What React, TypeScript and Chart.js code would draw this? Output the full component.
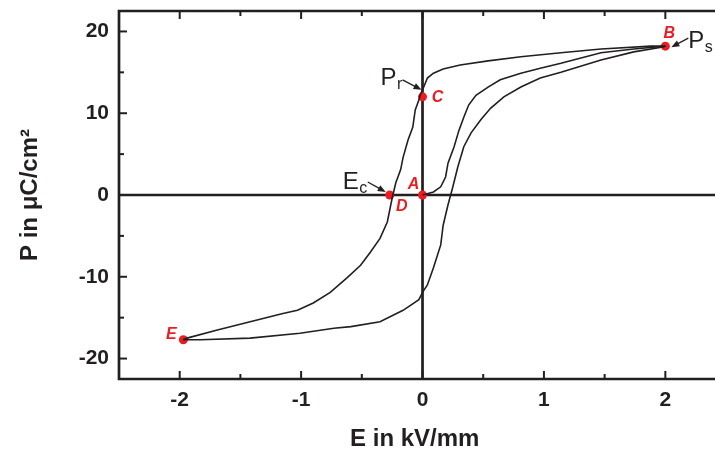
import React, { useEffect, useRef } from "react";
import { Chart, registerables } from "chart.js";

Chart.register(...registerables);

// Initial (virgin) curve A -> B
const INITIAL_E = [0, 0.09, 0.15, 0.19, 0.21, 0.26, 0.30, 0.34, 0.38, 0.44, 0.54, 0.64, 0.81, 0.97, 1.14, 1.47, 1.74, 2.0];
const INITIAL_P = [0, 0.37, 1.0, 2.2, 3.9, 5.9, 7.9, 9.5, 11.0, 12.2, 13.2, 14.1, 14.9, 15.5, 16.1, 17.4, 17.85, 18.2];

// Descending branch B -> E
const DESC_E = [2.0, 1.88, 1.47, 1.14, 0.81, 0.54, 0.31, 0.17, 0.09, 0.04, 0.01, -0.02, -0.03, -0.06, -0.08, -0.12, -0.16, -0.18, -0.22, -0.24, -0.25, -0.29, -0.35, -0.43, -0.51, -0.62, -0.76, -0.90, -1.03, -1.15, -1.42, -1.69, -1.94, -1.97];
const DESC_P = [18.2, 18.2, 17.85, 17.4, 16.9, 16.4, 15.9, 15.4, 14.9, 14.3, 13.2, 12.2, 11.6, 10.4, 8.3, 6.7, 4.6, 3.1, 1.5, 0.24, -0.37, -3.3, -5.3, -7.0, -8.6, -10.1, -11.9, -13.2, -14.1, -14.5, -15.5, -16.5, -17.5, -17.7];

// Ascending branch E -> B
const ASC_E = [-1.97, -1.83, -1.42, -1.01, -0.73, -0.59, -0.35, -0.16, -0.03, 0.0, 0.04, 0.09, 0.15, 0.17, 0.21, 0.25, 0.29, 0.34, 0.40, 0.48, 0.56, 0.67, 0.81, 0.97, 1.14, 1.47, 1.74, 1.98, 2.0];
const ASC_P = [-17.7, -17.7, -17.5, -16.9, -16.3, -16.1, -15.5, -14.1, -12.8, -11.9, -11.0, -8.9, -6.1, -3.7, -1.2, 1.0, 3.4, 5.9, 7.6, 9.2, 10.6, 12.0, 13.2, 14.3, 15.0, 16.5, 17.5, 18.1, 18.2];

// Marked points
const POINT_LABELS = ["A", "B", "C", "D", "E"];
const POINT_E = [0, 2.0, 0, -0.27, -1.97];
const POINT_P = [0, 18.2, 12.0, 0, -17.7];

// Axis ticks
const X_MAJOR = [-2, -1, 0, 1, 2];
const X_MINOR = [-1.5, -0.5, 0.5, 1.5];
const Y_MAJOR = [-20, -10, 0, 10, 20];
const Y_MINOR = [-15, -5, 5, 15];

const X_MIN = -2.5;
const X_MAX = 2.372;
const Y_MIN = -22.5;
const Y_MAX = 22.5;

const INK = "#231f20";
const RED = "#ed1c24";
const FONT = "'Liberation Sans', Arial, Helvetica, sans-serif";

const toXY = (xs: number[], ys: number[]) => xs.map((x, i) => ({ x, y: ys[i] }));

function arrow(ctx: CanvasRenderingContext2D, x1: number, y1: number, x2: number, y2: number) {
  const ang = Math.atan2(y2 - y1, x2 - x1);
  const hl = 8;
  const hw = 3.2;
  ctx.save();
  ctx.strokeStyle = INK;
  ctx.fillStyle = INK;
  ctx.lineWidth = 1.3;
  ctx.beginPath();
  ctx.moveTo(x1, y1);
  ctx.lineTo(x2 - Math.cos(ang) * hl * 0.8, y2 - Math.sin(ang) * hl * 0.8);
  ctx.stroke();
  ctx.beginPath();
  ctx.moveTo(x2, y2);
  ctx.lineTo(x2 - Math.cos(ang) * hl - Math.sin(ang) * hw, y2 - Math.sin(ang) * hl + Math.cos(ang) * hw);
  ctx.lineTo(x2 - Math.cos(ang) * hl + Math.sin(ang) * hw, y2 - Math.sin(ang) * hl - Math.cos(ang) * hw);
  ctx.closePath();
  ctx.fill();
  ctx.restore();
}

function subText(ctx: CanvasRenderingContext2D, main: string, sub: string, x: number, y: number) {
  ctx.save();
  ctx.fillStyle = INK;
  ctx.textBaseline = "alphabetic";
  ctx.textAlign = "left";
  ctx.font = `24px ${FONT}`;
  ctx.fillText(main, x, y);
  const w = ctx.measureText(main).width;
  ctx.font = `16px ${FONT}`;
  ctx.fillText(sub, x + w + 0.5, y + 4);
  ctx.restore();
}

const framePlugin = {
  id: "frame",
  beforeDatasetsDraw(chart: any) {
    const { ctx, chartArea } = chart;
    const { left, top, bottom } = chartArea;
    const right = chart.width;
    const xs = chart.scales.x;
    const ys = chart.scales.y;
    ctx.save();
    ctx.strokeStyle = INK;
    ctx.lineWidth = 2.7;
    ctx.lineCap = "butt";
    ctx.beginPath();
    ctx.moveTo(right, top);
    ctx.lineTo(left, top);
    ctx.lineTo(left, bottom);
    ctx.lineTo(right, bottom);
    ctx.stroke();
    const x0 = xs.getPixelForValue(0);
    const y0 = ys.getPixelForValue(0);
    ctx.beginPath();
    ctx.moveTo(x0, top);
    ctx.lineTo(x0, bottom);
    ctx.moveTo(left, y0);
    ctx.lineTo(right, y0);
    ctx.stroke();
    ctx.lineWidth = 2;
    const drawX = (v: number, len: number) => {
      const px = xs.getPixelForValue(v);
      ctx.beginPath();
      ctx.moveTo(px, bottom);
      ctx.lineTo(px, bottom - len);
      ctx.moveTo(px, top);
      ctx.lineTo(px, top + len);
      ctx.stroke();
    };
    const drawY = (v: number, len: number) => {
      const py = ys.getPixelForValue(v);
      ctx.beginPath();
      ctx.moveTo(left, py);
      ctx.lineTo(left + len, py);
      ctx.stroke();
    };
    X_MAJOR.forEach((v) => drawX(v, 8));
    X_MINOR.forEach((v) => drawX(v, 5));
    Y_MAJOR.forEach((v) => drawY(v, 8));
    Y_MINOR.forEach((v) => drawY(v, 5));
    ctx.restore();
  },
  afterDatasetsDraw(chart: any) {
    const { ctx } = chart;
    const xs = chart.scales.x;
    const ys = chart.scales.y;
    const px = (i: number) => xs.getPixelForValue(POINT_E[i]);
    const py = (i: number) => ys.getPixelForValue(POINT_P[i]);
    const offsets: [number, number][] = [
      [-9, -10],
      [4, -13],
      [15, 1],
      [12, 12],
      [-12, -5],
    ];
    ctx.save();
    ctx.fillStyle = RED;
    ctx.font = `italic bold 16px ${FONT}`;
    ctx.textAlign = "center";
    ctx.textBaseline = "middle";
    POINT_LABELS.forEach((lab, i) => {
      ctx.fillText(lab, px(i) + offsets[i][0], py(i) + offsets[i][1]);
    });
    ctx.restore();

    const bx = px(1), by = py(1);
    subText(ctx, "P", "s", bx + 23, by + 2);
    arrow(ctx, bx + 23, by - 8, bx + 6, by + 1);
    const cx = px(2), cy = py(2);
    subText(ctx, "P", "r", cx - 42, cy - 12);
    arrow(ctx, cx - 20, cy - 17, cx - 1, cy - 7);
    const dx = px(3), dy = py(3);
    subText(ctx, "E", "c", dx - 47, dy - 6);
    arrow(ctx, dx - 22, dy - 13, dx - 4, dy - 3);
  },
};

export default function App() {
  const ref = useRef<HTMLCanvasElement | null>(null);
  useEffect(() => {
    if (!ref.current) return;
    const lineStyle = {
      showLine: true,
      borderColor: INK,
      borderWidth: 1.6,
      pointRadius: 0,
      tension: 0,
      fill: false,
    };
    const chart = new Chart(ref.current, {
      type: "scatter",
      data: {
        datasets: [
          { label: "initial", data: toXY(INITIAL_E, INITIAL_P), ...lineStyle },
          { label: "descending", data: toXY(DESC_E, DESC_P), ...lineStyle },
          { label: "ascending", data: toXY(ASC_E, ASC_P), ...lineStyle },
          {
            label: "points",
            data: toXY(POINT_E, POINT_P),
            showLine: false,
            pointRadius: 4.5,
            pointBackgroundColor: RED,
            pointBorderWidth: 0,
            pointBorderColor: RED,
          },
        ],
      },
      options: {
        animation: false,
        responsive: false,
        maintainAspectRatio: false,
        layout: { padding: { top: 11, right: 0, left: 0, bottom: 0 } },
        plugins: {
          legend: { display: false },
          tooltip: { enabled: false },
        },
        scales: {
          x: {
            type: "linear",
            min: X_MIN,
            max: X_MAX,
            afterBuildTicks: (s: any) => {
              s.ticks = X_MAJOR.map((v) => ({ value: v }));
            },
            afterFit: (s: any) => {
              s.height = 71;
              s.paddingLeft = 0;
              s.paddingRight = 0;
            },
            grid: { display: false, drawTicks: false },
            border: { display: false },
            ticks: {
              color: INK,
              padding: 9,
              font: { family: FONT, weight: "bold", size: 21 },
              callback: (v: any) => String(v),
            },
            title: {
              display: true,
              text: "E in kV/mm",
              color: INK,
              font: { family: FONT, weight: "bold", size: 24 },
              padding: { top: 0, bottom: -4 },
            },
          },
          y: {
            type: "linear",
            min: Y_MIN,
            max: Y_MAX,
            afterBuildTicks: (s: any) => {
              s.ticks = Y_MAJOR.map((v) => ({ value: v }));
            },
            afterFit: (s: any) => {
              s.width = 119;
              s.paddingTop = 0;
              s.paddingBottom = 0;
            },
            grid: { display: false, drawTicks: false },
            border: { display: false },
            ticks: {
              color: INK,
              padding: 10,
              font: { family: FONT, weight: "bold", size: 21 },
              callback: (v: any) => String(v),
            },
            title: {
              display: true,
              text: "P in μC/cm²",
              color: INK,
              font: { family: FONT, weight: "bold", size: 24 },
              padding: { top: 16, bottom: 0 },
            },
          },
        },
      },
      plugins: [framePlugin],
    });
    return () => chart.destroy();
  }, []);
  return (
    <div style={{ position: "fixed", left: 0, top: 0, width: 715, height: 450, background: "#fff" }}>
      <canvas ref={ref} width={715} height={450} style={{ display: "block" }} />
    </div>
  );
}
